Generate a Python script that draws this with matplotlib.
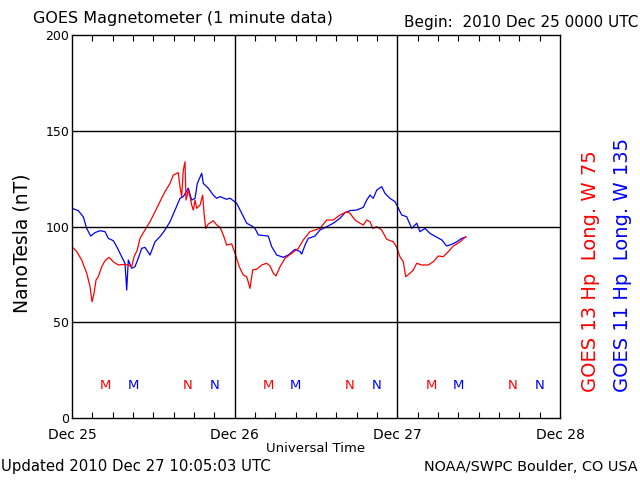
import numpy as np
import matplotlib
matplotlib.use('Agg')
import matplotlib.pyplot as plt
from matplotlib.ticker import MultipleLocator

# hours since 2010 Dec 25 00:00 UTC, field in nT
hrs13 = [0.0, 0.69, 1.43, 2.17, 2.66, 2.95, 3.25, 3.54, 3.88, 4.38, 4.87, 5.46,
         6.09, 6.83, 7.57, 8.31, 8.81, 9.15, 9.63, 10.03, 10.77, 11.51, 12.25,
         12.98, 13.72, 14.46, 14.95, 15.68, 15.93, 16.18, 16.42, 16.67, 16.82,
         17.16, 17.41, 17.66, 17.90, 18.15, 18.40, 18.89, 19.28, 19.48, 19.73,
         20.11, 20.85, 21.35, 21.84, 22.32, 22.82, 23.56, 24.05, 24.68, 25.27,
         25.78, 26.26, 26.66, 27.25, 27.99, 28.73, 29.21, 29.70, 30.10, 30.69,
         31.43, 32.41, 33.39, 34.13, 35.11, 35.85, 36.59, 37.58, 38.55, 39.54,
         40.53, 41.02, 41.75, 42.49, 42.98, 43.48, 43.97, 44.37, 44.96, 45.69,
         46.43, 47.41, 47.91, 48.39, 48.88, 49.23, 49.87, 50.36, 50.86, 51.59,
         52.57, 53.31, 54.04, 54.78, 55.52, 56.26, 57.25, 58.08]
hp13 = [89.5, 86.9, 82.5, 75.6, 68.6, 60.7, 65.1, 72.0, 73.8, 79.0, 82.1, 83.9,
        81.6, 79.9, 80.2, 79.9, 79.0, 84.2, 87.7, 93.8, 98.2, 102.5, 107.7,
        113.0, 118.2, 122.5, 126.9, 128.1, 120.8, 115.6, 129.5, 133.8, 113.8,
        119.0, 115.6, 111.2, 108.6, 113.8, 109.5, 111.2, 116.4, 106.9, 99.0,
        101.3, 103.0, 100.8, 99.6, 95.6, 90.3, 90.9, 86.0, 79.0, 74.7,
        73.8, 67.7, 77.3, 77.7, 79.9, 80.8, 79.4, 75.6, 74.2, 79.0,
        83.4, 86.0, 88.6, 93.0, 97.3, 98.2, 99.0, 103.4, 103.4, 106.0,
        107.7, 106.9, 103.4, 101.7, 100.8, 103.4, 102.5, 99.0, 99.9, 98.2,
        93.3, 92.0, 89.1, 84.2, 81.6, 73.8, 75.6, 77.3, 80.8, 79.9,
        79.9, 81.6, 84.6, 84.2, 86.9, 89.8, 92.0, 94.7]

hrs11 = [0.0, 0.93, 1.67, 2.17, 2.76, 3.39, 4.13, 4.87, 5.36, 6.09, 6.60, 7.33,
         7.82, 8.07, 8.31, 8.81, 9.29, 9.78, 10.28, 10.77, 11.51, 12.25, 12.98,
         13.72, 14.46, 15.20, 15.93, 16.42, 17.16, 17.66, 18.15, 18.49, 19.14,
         19.37, 20.11, 20.85, 21.35, 21.84, 22.82, 23.31, 24.30, 25.04, 25.78,
         26.51, 27.00, 27.49, 28.96, 29.46, 30.20, 31.17, 31.91, 32.90, 33.64,
         33.89, 34.38, 34.86, 35.85, 36.59, 37.58, 38.55, 39.54, 40.28, 41.02,
         42.00, 42.98, 43.48, 43.97, 44.45, 44.96, 45.69, 46.18, 46.92, 47.65,
         48.05, 48.64, 49.38, 50.12, 50.86, 51.34, 52.08, 52.82, 53.81, 54.55,
         55.28, 56.02, 56.76, 57.50, 58.08]
hp11 = [109.5, 108.3, 105.0, 99.0, 95.0, 96.8, 97.8, 97.3, 93.8, 92.6, 89.5, 84.2,
        80.8, 66.8, 82.5, 78.2, 79.0, 83.4, 88.6, 89.1, 85.1, 92.0, 94.7,
        98.2, 102.5, 108.6, 114.7, 115.6, 120.0, 113.8, 114.7, 122.5, 127.8,
        122.5, 120.0, 116.4, 114.7, 115.6, 114.2, 114.8, 112.1, 106.9, 101.7,
        100.3, 99.0, 95.6, 95.0, 89.5, 85.1, 83.9, 85.1, 88.1, 86.9,
        85.6, 90.3, 93.8, 95.0, 98.2, 99.9, 101.7, 104.3, 107.2, 108.3,
        108.6, 110.0, 113.8, 116.4, 114.7, 119.0, 120.8, 117.3, 114.7, 113.0,
        110.3, 106.0, 105.1, 99.0, 101.7, 97.3, 99.0, 96.4, 94.4, 93.0,
        89.8, 90.7, 92.0, 93.8, 94.4]

# M / N markers (local midnight / noon) per satellite
m13 = [5, 29, 53]
n13 = [17, 41, 65]
m11 = [9, 33, 57]
n11 = [21, 45, 69]

day_labels = ['Dec 25', 'Dec 26', 'Dec 27', 'Dec 28']

fig = plt.figure(figsize=(6.4, 4.8), dpi=100)
ax = fig.add_axes([72/640, 1-418/480, 488/640, 383/480])

ax.plot(hrs11, hp11, color='#0000ff', lw=0.9)
ax.plot(hrs13, hp13, color='#ff0000', lw=0.9)

for h in m13:
    ax.text(h, 17, 'M', color='#ff0000', ha='center', va='center', fontsize=9.5)
for h in n13:
    ax.text(h, 17, 'N', color='#ff0000', ha='center', va='center', fontsize=9.5)
for h in m11:
    ax.text(h, 17, 'M', color='#0000ff', ha='center', va='center', fontsize=9.5)
for h in n11:
    ax.text(h, 17, 'N', color='#0000ff', ha='center', va='center', fontsize=9.5)

for d in [24, 48]:
    ax.axvline(d, color='k', lw=1)
for v in [50, 100, 150]:
    ax.axhline(v, color='k', lw=1)

ax.set_xlim(0, 72)
ax.set_ylim(0, 200)
ax.set_xticks([0, 24, 48, 72])
ax.set_xticklabels(day_labels, fontsize=10)
ax.xaxis.set_minor_locator(MultipleLocator(3))
ax.tick_params(axis='x', which='major', length=0, pad=7)
ax.tick_params(axis='x', which='minor', direction='in', length=4, top=True, bottom=True, width=0.8)
ax.set_yticks([0, 50, 100, 150, 200])
ax.tick_params(axis='y', length=0, pad=2, labelsize=9)
for s in ax.spines.values():
    s.set_linewidth(1)

fig.text(33/640, 1-18/480, 'GOES Magnetometer (1 minute data)', fontsize=11.5, va='center', ha='left')
fig.text(638/640, 1-22/480, 'Begin:  2010 Dec 25 0000 UTC', fontsize=11, va='center', ha='right')
fig.text(22/640, 1-243/480, 'NanoTesla (nT)', fontsize=13.5, rotation=90, va='center', ha='center')
fig.text(316/640, 1-449/480, 'Universal Time', fontsize=9.5, va='center', ha='center')
fig.text(1/640, 1-467/480, 'Updated 2010 Dec 27 10:05:03 UTC', fontsize=10.7, va='center', ha='left')
fig.text(638/640, 1-467/480, 'NOAA/SWPC Boulder, CO USA', fontsize=10.4, va='center', ha='right')
fig.text(590/640, 1-392/480, 'GOES 13 Hp  Long. W 75', fontsize=14, rotation=90,
         color='#ff0000', va='bottom', ha='center')
fig.text(622/640, 1-392/480, 'GOES 11 Hp  Long. W 135', fontsize=14, rotation=90,
         color='#0000ff', va='bottom', ha='center')

plt.savefig('out.png', dpi=100)
